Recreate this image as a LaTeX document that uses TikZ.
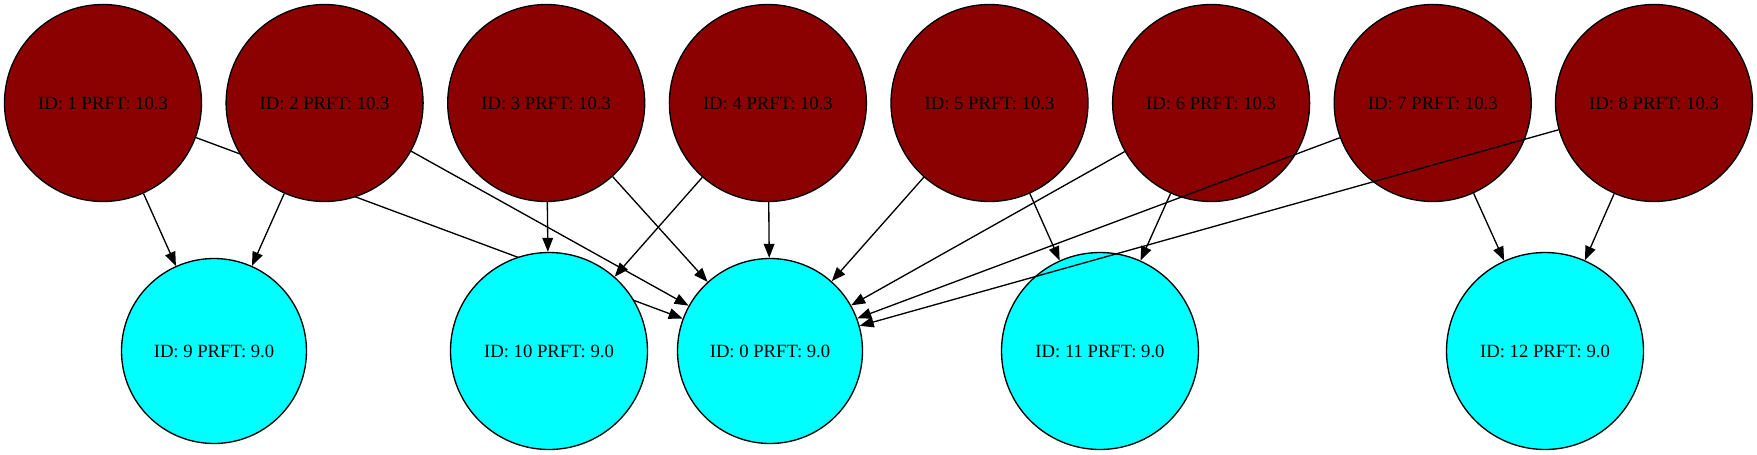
\documentclass[tikz,border=0pt]{standalone}
\usepackage{fontspec}
\setmainfont{Liberation Serif}
\usepackage{xcolor}
\usetikzlibrary{arrows.meta}
\definecolor{topred}{HTML}{8B0000}
\definecolor{leafcyan}{HTML}{00FFFF}

\begin{document}
\begin{tikzpicture}[x=0.75pt, y=-0.75pt, font=\fontsize{14}{16}\selectfont,
  bignode/.style={circle, draw, line width=1pt, fill=topred, minimum size=147.75pt, inner sep=0pt},
  leafnode/.style={circle, draw, line width=1pt, fill=leafcyan, minimum size=147.75pt, inner sep=0pt},
  smallleaf/.style={leafnode, minimum size=138.75pt},
  link/.style={-{Triangle[length=10.5pt,width=8pt]}, line width=1pt}]
\useasboundingbox (0,0) rectangle (1757,454);
\node[bignode] (n1) at (103.0, 103.0) {ID: 1 PRFT: 10.3};
\node[smallleaf] (n9) at (214.0, 351.0) {ID: 9 PRFT: 9.0};
\node[smallleaf] (n0) at (770.0, 351.0) {ID: 0 PRFT: 9.0};
\draw[link] (n1) -- (n9);
\draw[link] (n1) -- (n0);
\node[bignode] (n2) at (324.6, 103.0) {ID: 2 PRFT: 10.3};
\draw[link] (n2) -- (n9);
\draw[link] (n2) -- (n0);
\node[bignode] (n3) at (546.2, 103.0) {ID: 3 PRFT: 10.3};
\node[leafnode] (n10) at (549.0, 351.0) {ID: 10 PRFT: 9.0};
\draw[link] (n3) -- (n10);
\draw[link] (n3) -- (n0);
\node[bignode] (n4) at (767.9, 103.0) {ID: 4 PRFT: 10.3};
\draw[link] (n4) -- (n10);
\draw[link] (n4) -- (n0);
\node[bignode] (n5) at (989.5, 103.0) {ID: 5 PRFT: 10.3};
\node[leafnode] (n11) at (1100.0, 351.0) {ID: 11 PRFT: 9.0};
\draw[link] (n5) -- (n0);
\draw[link] (n5) -- (n11);
\node[bignode] (n6) at (1211.1, 103.0) {ID: 6 PRFT: 10.3};
\draw[link] (n6) -- (n0);
\draw[link] (n6) -- (n11);
\node[bignode] (n7) at (1432.7, 103.0) {ID: 7 PRFT: 10.3};
\node[leafnode] (n12) at (1545.0, 351.0) {ID: 12 PRFT: 9.0};
\draw[link] (n7) -- (n0);
\draw[link] (n7) -- (n12);
\node[bignode] (n8) at (1654.0, 103.0) {ID: 8 PRFT: 10.3};
\draw[link] (n8) -- (n0);
\draw[link] (n8) -- (n12);
\end{tikzpicture}
\end{document}
